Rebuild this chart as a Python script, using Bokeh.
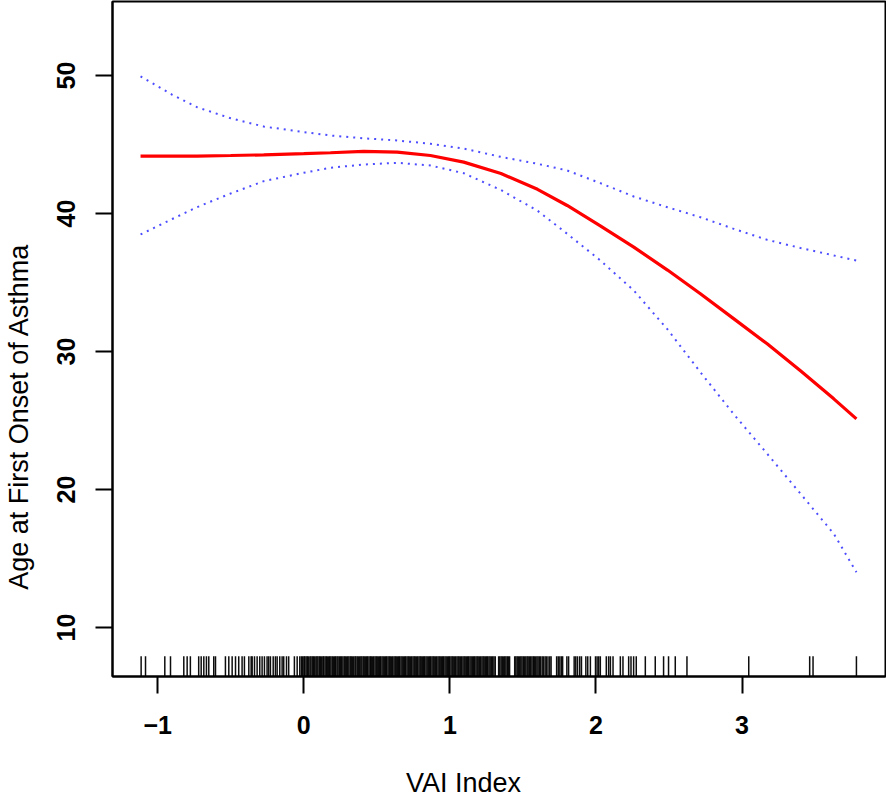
from bokeh.plotting import figure
from bokeh.models import Range1d, FixedTicker, LinearAxis
from bokeh.embed import file_html
from bokeh.resources import INLINE

# ---- data ----
vai_x = [-1.117, -0.9, -0.73, -0.5, -0.274, 0.0, 0.183, 0.41, 0.64, 0.867, 1.095,
         1.35, 1.6, 1.803, 2.03, 2.259, 2.49, 2.715, 2.94, 3.172, 3.4, 3.628, 3.783]
fit = [44.15, 44.15, 44.16, 44.2, 44.25, 44.33, 44.4, 44.5, 44.45, 44.2, 43.72,
       42.9, 41.75, 40.58, 39.1, 37.56, 35.9, 34.18, 32.4, 30.56, 28.6, 26.57, 25.12]
upper = [49.93, 48.6, 47.7, 46.9, 46.3, 45.9, 45.65, 45.45, 45.29, 45.05, 44.7,
         44.1, 43.6, 43.12, 42.2, 41.23, 40.45, 39.73, 38.9, 38.09, 37.5, 36.96, 36.59]
lower = [38.48, 39.6, 40.46, 41.45, 42.34, 42.95, 43.31, 43.55, 43.67, 43.48, 42.92,
         41.7, 40.2, 38.53, 36.6, 34.42, 31.6, 28.5, 25.5, 22.59, 19.7, 16.79, 14.01]

rug_x = [
    -1.113, -1.083, -0.951, -0.912, -0.821, -0.798, -0.776, -0.719, -0.702, -0.684,
    -0.666, -0.650, -0.616, -0.604, -0.536, -0.513, -0.490, -0.467, -0.445, -0.422,
    -0.406, -0.376, -0.360, -0.353, -0.337, -0.319, -0.301, -0.285, -0.269, -0.251,
    -0.240, -0.228, -0.209, -0.194, -0.182, -0.164, -0.148, -0.137, -0.118, -0.103,
    -0.064, -0.045, -0.027,
    -0.016, -0.008, 0.001, 0.007, 0.016, 0.024, 0.031, 0.042, 0.049, 0.058, 0.066,
    0.073, 0.083, 0.090, 0.097, 0.106, 0.113, 0.122, 0.131, 0.137, 0.146, 0.154,
    0.161, 0.171, 0.178, 0.186, 0.195, 0.203, 0.212, 0.219, 0.228, 0.235, 0.244,
    0.252, 0.259, 0.268, 0.277, 0.284, 0.293, 0.301, 0.309, 0.318, 0.325, 0.333,
    0.342, 0.351, 0.357, 0.366, 0.374, 0.383, 0.391, 0.398, 0.407, 0.414, 0.423,
    0.431, 0.438, 0.447, 0.456, 0.462, 0.471, 0.479, 0.488, 0.496, 0.503, 0.512,
    0.520, 0.527, 0.536, 0.544, 0.553, 0.561, 0.568, 0.577, 0.585, 0.592, 0.601,
    0.609, 0.618, 0.626, 0.633, 0.642, 0.650, 0.657, 0.666, 0.674, 0.683, 0.691,
    0.698, 0.707, 0.715, 0.722, 0.731, 0.739, 0.748, 0.756, 0.763, 0.772, 0.780,
    0.789, 0.797, 0.804, 0.813, 0.821, 0.828, 0.837, 0.845, 0.854, 0.862, 0.869,
    0.878, 0.886, 0.893, 0.902, 0.910, 0.919, 0.927, 0.934, 0.943, 0.951, 0.958,
    0.967, 0.975, 0.984, 0.992, 0.999, 1.008, 1.016, 1.023, 1.032, 1.040, 1.049,
    1.057, 1.064, 1.073, 1.081, 1.090, 1.098, 1.105, 1.114, 1.122, 1.129, 1.138,
    1.146, 1.155, 1.163, 1.170, 1.179, 1.187, 1.194, 1.203, 1.211, 1.220, 1.228,
    1.235, 1.244, 1.252, 1.259, 1.268, 1.276, 1.285, 1.293, 1.302,
    1.311, 1.334, 1.342, 1.351, 1.359, 1.368, 1.376, 1.384, 1.393, 1.401, 1.409,
    1.444, 1.452, 1.461, 1.469, 1.478, 1.486, 1.494, 1.503, 1.511, 1.520, 1.529,
    1.536, 1.545, 1.553, 1.562, 1.571, 1.578, 1.587, 1.596, 1.604, 1.613, 1.621,
    1.632, 1.641, 1.652, 1.661, 1.672, 1.684, 1.693, 1.731, 1.742, 1.753, 1.764,
    1.772, 1.801, 1.813, 1.851, 1.862, 1.874, 1.889, 1.901, 1.931,
    1.944, 1.962, 1.997, 2.008, 2.019, 2.030, 2.071, 2.087, 2.099, 2.117, 2.167,
    2.185, 2.224, 2.240, 2.258, 2.276, 2.338, 2.406, 2.463, 2.497, 2.543, 2.623,
    3.046, 3.463, 3.486, 3.783,
]

x_ticks = [-1, 0, 1, 2, 3]
y_ticks = [10, 20, 30, 40, 50]
x_title = "VAI Index"
y_title = "Age at First Onset of Asthma"

# ---- figure ----
x_lo, x_hi = -1.309, 3.982
y_lo, y_hi = 6.45, 55.36

p = figure(width=886, height=801,
           x_range=Range1d(x_lo, x_hi), y_range=Range1d(y_lo, y_hi),
           output_backend="svg", toolbar_location=None,
           min_border_left=112, min_border_right=1,
           min_border_top=1, min_border_bottom=125)
p.background_fill_color = "white"
p.border_fill_color = "white"
p.outline_line_color = "black"
p.outline_line_width = 2
p.xgrid.visible = False
p.ygrid.visible = False

FONT = "Liberation Sans"
for ax in (p.xaxis[0], p.yaxis[0]):
    ax.major_tick_out = 17
    ax.major_tick_in = 0
    ax.minor_tick_out = 0
    ax.minor_tick_in = 0
    ax.major_tick_line_width = 2
    ax.major_tick_line_color = "black"
    ax.axis_line_width = 2
    ax.axis_line_color = "black"
    ax.major_label_text_font = FONT
    ax.major_label_text_font_size = "25px"
    ax.major_label_text_font_style = "bold"
    ax.major_label_text_color = "black"

p.xaxis[0].ticker = FixedTicker(ticks=x_ticks)
p.yaxis[0].ticker = FixedTicker(ticks=y_ticks)
p.xaxis[0].major_label_standoff = 22
p.yaxis[0].major_label_standoff = 20
p.yaxis[0].major_label_orientation = "vertical"

# axis titles, placed off-centre as in the reference (one labelled tick each)
x_title_pos = 1.093
y_title_pos = 25.29


def title_axis(pos, text, standoff, vertical=False):
    ax = LinearAxis(ticker=FixedTicker(ticks=[pos]),
                    major_label_overrides={pos: text})
    ax.major_tick_out = 0
    ax.major_tick_in = 0
    ax.minor_tick_out = 0
    ax.minor_tick_in = 0
    ax.axis_line_color = None
    ax.major_tick_line_color = None
    ax.major_label_text_font = FONT
    ax.major_label_text_font_size = "27px"
    ax.major_label_text_font_style = "normal"
    ax.major_label_text_color = "black"
    ax.major_label_standoff = standoff
    if vertical:
        ax.major_label_orientation = "vertical"
    return ax


p.add_layout(title_axis(x_title_pos, x_title, 31), "below")
p.add_layout(title_axis(y_title_pos, y_title, 20, vertical=True), "left")

# rug along the bottom (3% of the plot height)
rug_top = y_lo + 0.03 * (y_hi - y_lo)
p.segment(x0=rug_x, y0=[y_lo] * len(rug_x), x1=rug_x, y1=[rug_top] * len(rug_x),
          line_color="black", line_width=1.5, line_alpha=0.95)

# confidence band (dotted blue) and fit (red)
p.line(vai_x, upper, line_color="#2020ff", line_width=2, line_dash="2 5",
       line_alpha=0.8)
p.line(vai_x, lower, line_color="#2020ff", line_width=2, line_dash="2 5",
       line_alpha=0.8)
p.line(vai_x, fit, line_color="#ff0000", line_width=3.2)

open("out.html", "w").write(file_html(p, INLINE))
